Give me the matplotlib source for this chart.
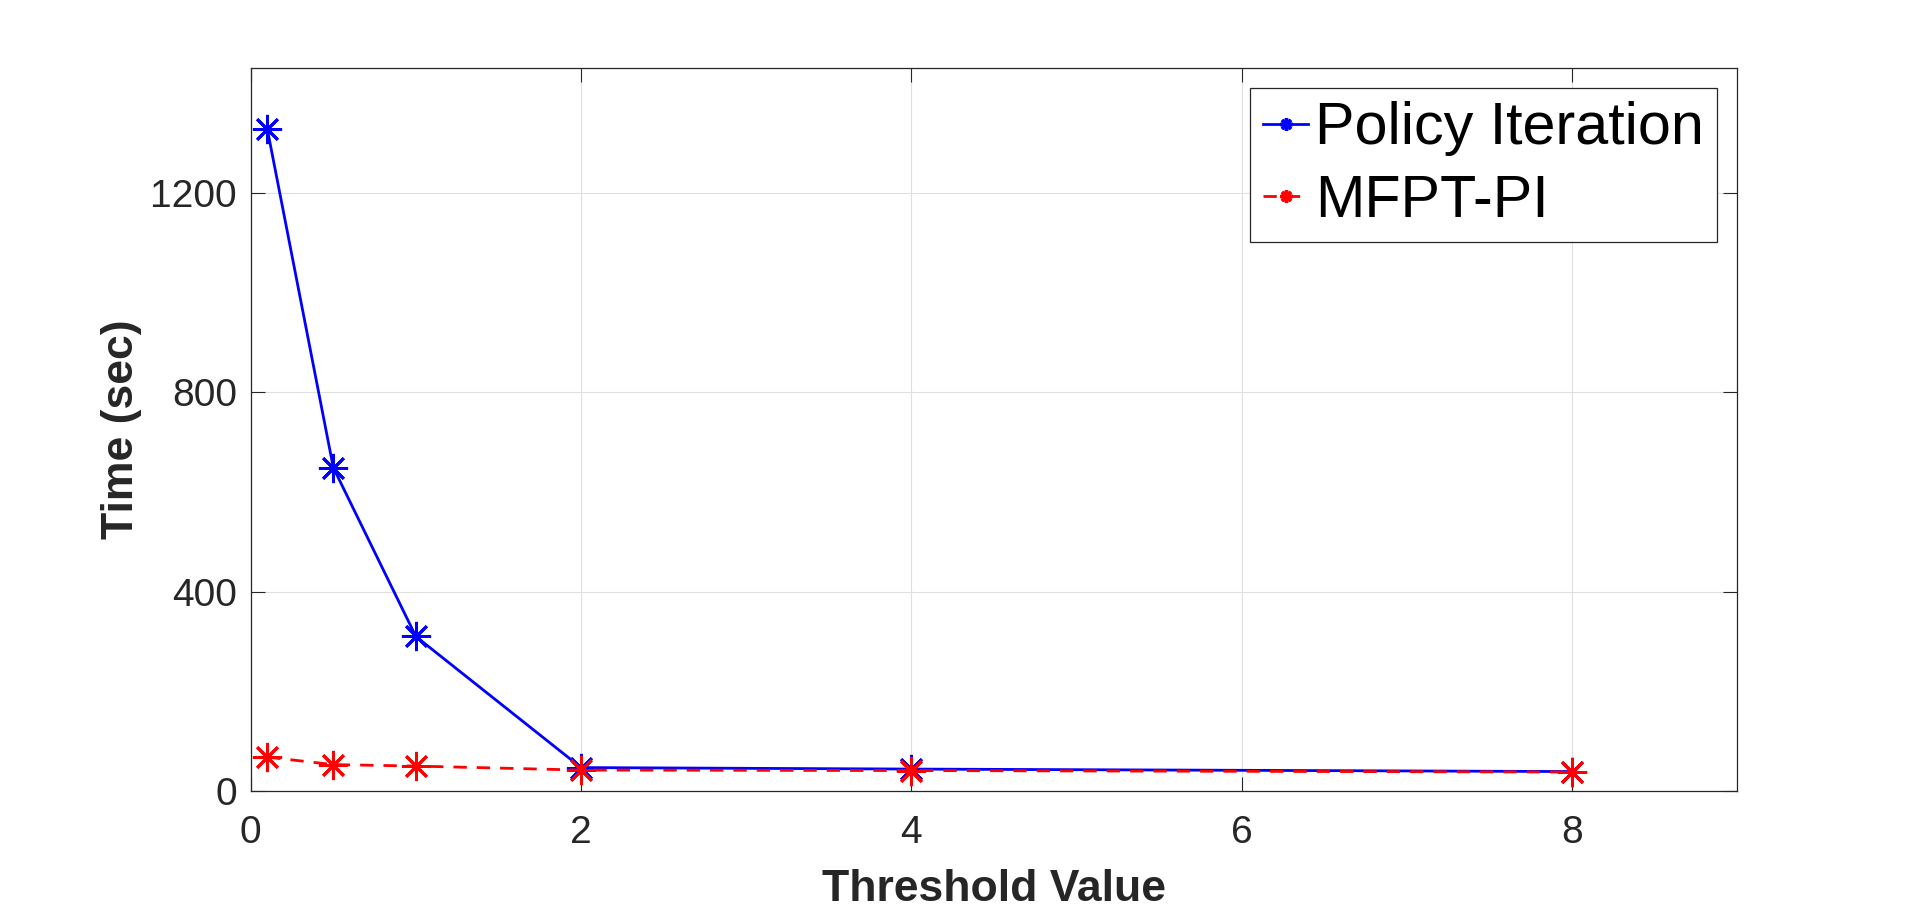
import matplotlib
matplotlib.use("Agg")
import matplotlib.pyplot as plt

plt.rcParams['font.family'] = ['Liberation Sans', 'DejaVu Sans']

# Data
thresholds = [0.1, 0.5, 1, 2, 4, 8]
policy_iteration = [1329, 649, 310, 47, 44, 39]
mfpt_pi = [68, 53, 50, 42, 41, 38]
series_labels = ["Policy Iteration", "MFPT-PI"]
x_ticks = [0, 2, 4, 6, 8]
y_ticks = [0, 400, 800, 1200]
x_label = "Threshold Value"
y_label = "Time (sec)"

DARK = "#262626"

fig = plt.figure(figsize=(19.2, 9.11), dpi=100)
ax = fig.add_axes([250.7 / 1920, 120 / 911, (1737.3 - 250.7) / 1920, (791 - 68.3) / 911])

star = (8, 2, 0)
ax.plot(thresholds, policy_iteration, color="#0000FF", linewidth=2.0,
        marker=star, markersize=21, markeredgewidth=2.0,
        label=series_labels[0], zorder=3)
ax.plot(thresholds, mfpt_pi, color="#FF0000", linewidth=2.0,
        linestyle=(0, (4.8, 3.6)),
        marker=star, markersize=21, markeredgewidth=2.0,
        label=series_labels[1], zorder=4)

ax.set_xlim(0, 9)
ax.set_ylim(0, 1450)
ax.set_xticks(x_ticks)
ax.set_yticks(y_ticks)
ax.set_xticklabels([str(t) for t in x_ticks])
ax.set_yticklabels([str(t) for t in y_ticks])

ax.grid(True, color="#dfdfdf", linewidth=0.8)
ax.set_axisbelow(True)

for s in ax.spines.values():
    s.set_color(DARK)
    s.set_linewidth(0.9)

ax.tick_params(axis='both', direction='in', length=10, width=0.8,
               colors=DARK, labelsize=28, top=True, right=True)
ax.tick_params(axis='x', pad=17)
ax.tick_params(axis='y', pad=10)

ax.set_xlabel(x_label, fontsize=32, fontweight='bold', color=DARK)
ax.set_ylabel(y_label, fontsize=32, fontweight='bold', color=DARK)
ax.xaxis.set_label_coords(0.5, (42 - 120) / 722.7)
ax.xaxis.label.set_va('top')
ax.yaxis.set_label_coords((141.7 - 250.7) / 1486.6, 0.5)

leg = ax.legend(loc='upper right',
                bbox_to_anchor=(1 - 20 / 1486.6, 1 - 20 / 722.7),
                borderaxespad=0, fontsize=42.7, numpoints=1,
                handlelength=0.76, handletextpad=0.12,
                borderpad=0.22, labelspacing=0.3,
                fancybox=False, framealpha=1, edgecolor=DARK)
leg.get_frame().set_linewidth(0.9)
for h in leg.legend_handles:
    h.set_markersize(9)
    h.set_markeredgewidth(2.5)
for t in leg.get_texts():
    t.set_color("black")

fig.savefig("out.png", dpi=100, facecolor="white")
